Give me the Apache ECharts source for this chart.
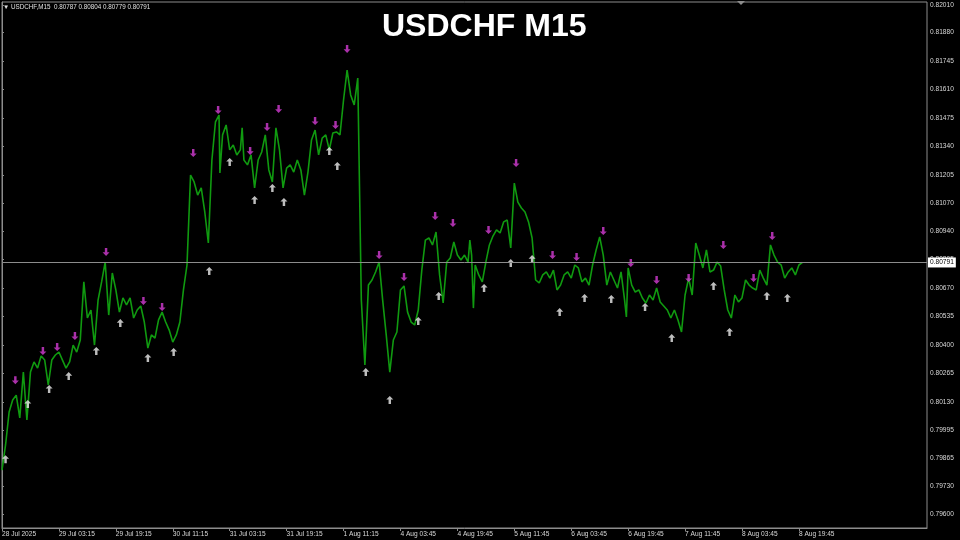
<!DOCTYPE html>
<html>
<head>
<meta charset="utf-8">
<script src="https://cdn.jsdelivr.net/npm/echarts@6.0.0/dist/echarts.min.js"></script>
<style>html,body{margin:0;padding:0;background:#000;}#c{width:960px;height:540px;}</style>
</head>
<body>
<div id="c"></div>
<script>
const symbolName = 'USDCHF M15';
const infoName = 'USDCHF,M15';
const lastBarOHLC = [0.80787, 0.80804, 0.80779, 0.80791];
const STEP = 4;
const closes = [
0.79808,0.79927,0.80083,0.80140,0.80163,0.80055,0.80272,0.80045,0.80272,0.80320,
0.80291,0.80348,0.80329,0.80211,0.80329,0.80353,0.80367,0.80329,0.80291,0.80320,
0.80400,0.80367,0.80424,0.80699,0.80528,0.80566,0.80400,0.80613,0.80699,0.80793,
0.80542,0.80741,0.80661,0.80556,0.80623,0.80590,0.80623,0.80528,0.80566,0.80585,
0.80509,0.80386,0.80448,0.80433,0.80519,0.80556,0.80509,0.80471,0.80414,0.80448,
0.80509,0.80661,0.80779,0.81205,0.81172,0.81110,0.81144,0.81030,0.80883,0.81276,
0.81456,0.81489,0.81395,0.81442,0.81324,0.81347,0.81300,0.81324,0.81276,0.81253,
0.81300,0.81144,0.81276,0.81314,0.81395,0.81229,0.81172,0.81428,0.81324,0.81144,
0.81238,0.81253,0.81219,0.81276,0.81229,0.81110,0.81219,0.81371,0.81418,0.81300,
0.81380,0.81395,0.81324,0.81404,0.81409,0.81395,0.81560,0.81702,0.81584,0.81537,
0.81664,0.80613,0.80306,0.80684,0.80708,0.80746,0.80793,0.80613,0.80448,0.80272,
0.80424,0.80462,0.80661,0.80680,0.80556,0.80509,0.80495,0.80566,0.80755,0.80897,
0.80907,0.80874,0.80935,0.80732,0.80599,0.80793,0.80812,0.80888,0.80826,0.80803,
0.80826,0.80793,0.80826,0.80779,0.80732,0.80699,0.80793,0.80874,0.80916,0.80945,
0.80931,0.80983,0.80992,0.80860,0.81167,0.81077,0.81049,0.81030,0.80983,0.80907,
0.80708,0.80694,0.80732,0.80746,0.80717,0.80755,0.80661,0.80684,0.80732,0.80746,
0.80717,0.80779,0.80765,0.80699,0.80717,0.80684,0.80779,0.80850,0.80912,0.80826,
0.80684,0.80746,0.80708,0.80670,0.80746,0.80613,0.80765,0.80684,0.80651,0.80661,
0.80623,0.80599,0.80637,0.80613,0.80670,0.80604,0.80585,0.80566,0.80528,0.80566,
0.80519,0.80462,0.80637,0.80717,0.80637,0.80883,0.80826,0.80765,0.80850,0.80746,
0.80755,0.80793,0.80774,0.80661,0.80566,0.80528,0.80637,0.80604,0.80623,0.80708,
0.80684,0.80670,0.80661,0.80755,0.80717,0.80684,0.80874,0.80826,0.80793,0.80779,
0.80717,0.80746,0.80765,0.80732,0.80779,0.80791
];
// single-bar spikes read between the regular samples
const spikeBars = [245, 270, 526, 530, 702];
const spikePrices = [0.81215, 0.81428, 0.80897, 0.80575, 0.80533];
// fractal arrows (bar index, price)
const downBars = [15,46,62,82,117,159,180,215,243,279,298,311,352,375,388,424,452,487,507,547,578,619,646,676,707,736,772,811,845,866];
const downPrices = [0.80234,0.80372,0.80391,0.80443,0.80841,0.80609,0.80580,0.81309,0.81513,0.81319,0.81432,0.81518,0.81461,0.81442,0.81802,0.80826,0.80722,0.81011,0.80978,0.80945,0.81262,0.80826,0.80817,0.80940,0.80788,0.80708,0.80717,0.80874,0.80717,0.80916];
const upBars = [4,29,53,75,106,133,164,193,233,256,284,304,317,368,377,409,436,468,491,542,572,596,627,655,685,723,753,800,818,860,883];
const upPrices = [0.79860,0.80121,0.80192,0.80253,0.80372,0.80504,0.80339,0.80367,0.80751,0.81267,0.81087,0.81144,0.81077,0.81319,0.81248,0.80272,0.80140,0.80514,0.80632,0.80670,0.80788,0.80807,0.80556,0.80623,0.80618,0.80580,0.80433,0.80680,0.80462,0.80632,0.80623];
// axes
const xTickBars = [0,64,128,192,256,320,384,448,512,576,640,704,768,832,896];
const xTickLabels = ['28 Jul 2025','29 Jul 03:15','29 Jul 19:15','30 Jul 11:15','31 Jul 03:15','31 Jul 19:15','1 Aug 11:15','4 Aug 03:45','4 Aug 19:45','5 Aug 11:45','6 Aug 03:45','6 Aug 19:45','7 Aug 11:45','8 Aug 03:45','8 Aug 19:45'];
const yTicks = [0.79600,0.79730,0.79865,0.79995,0.80130,0.80265,0.80400,0.80535,0.80670,0.80805,0.80940,0.81070,0.81205,0.81340,0.81475,0.81610,0.81745,0.81880,0.82010];
const xMax = 1040, yMin = 0.79534, yMax = 0.82024;

const lineData = closes.map((p, i) => [i * STEP, p])
  .concat(spikeBars.map((b, i) => [b, spikePrices[i]]))
  .sort((a, b) => a[0] - b[0]);
const upData = upBars.map((b, i) => [b, upPrices[i]]);
const downData = downBars.map((b, i) => [b, downPrices[i]]);
const lastPrice = closes[closes.length - 1];

const UP_ARROW = 'path://M4,0 L8,4 L5.4,4 L5.4,9 L2.6,9 L2.6,4 L0,4 Z';
const DOWN_ARROW = 'path://M4,9 L8,5 L5.4,5 L5.4,0 L2.6,0 L2.6,5 L0,5 Z';
const FONT = 'Liberation Sans';
const GRAY = '#8c8c8c';

const chart = echarts.init(document.getElementById('c'), null, {renderer: 'canvas'});
chart.setOption({
  backgroundColor: '#000',
  animation: false,
  title: [
    {text: symbolName, left: 377, top: 6,
     textStyle: {color: '#fff', fontSize: 32, fontWeight: 'bold', fontFamily: FONT}},
    {text: '\u25BC ' + infoName + '  ' + lastBarOHLC.map(v => v.toFixed(5)).join(' '), left: 3, top: 4, padding: 0,
     textStyle: {color: '#e0e0e0', fontSize: 6.3, fontWeight: 'normal', fontFamily: FONT}}
  ],
  graphic: [{type: 'polygon', shape: {points: [[737, 1], [745, 1], [741, 5]]}, style: {fill: GRAY}, silent: true}],
  grid: {left: 2, right: 33, top: 2, bottom: 12, show: true, borderColor: GRAY, borderWidth: 1,
         backgroundColor: '#000', containLabel: false, outerBoundsMode: 'none'},
  xAxis: {
    type: 'value', min: 0, max: xMax,
    axisLine: {show: true, lineStyle: {color: GRAY}},
    axisTick: {show: true, length: 3, customValues: xTickBars, lineStyle: {color: GRAY}},
    splitLine: {show: false},
    axisLabel: {customValues: xTickBars, formatter: v => xTickLabels[xTickBars.indexOf(v)] || '',
                align: 'left', color: '#d8d8d8', fontSize: 6.6, fontFamily: FONT, margin: 3}
  },
  yAxis: {
    type: 'value', position: 'right', min: yMin, max: yMax, scale: true,
    axisLine: {show: true, lineStyle: {color: GRAY}},
    axisTick: {show: true, length: 2, customValues: yTicks, lineStyle: {color: GRAY}},
    splitLine: {show: false},
    axisLabel: {customValues: yTicks, formatter: v => v.toFixed(5),
                color: '#d8d8d8', fontSize: 6.6, fontFamily: FONT, margin: 3}
  },
  series: [
    {type: 'line', data: lineData, showSymbol: false, z: 2,
     lineStyle: {color: '#109a10', width: 1.6},
     markLine: {silent: true, symbol: 'none', animation: false, precision: 5,
       data: [{yAxis: lastPrice}],
       lineStyle: {color: GRAY, width: 1, type: 'solid'},
       label: {show: true, position: 'end', distance: 1, formatter: () => lastPrice.toFixed(5),
               color: '#000', backgroundColor: '#fff', fontSize: 6.6, fontFamily: FONT, padding: [2, 2, 1, 2]}}
    },
    {type: 'scatter', data: upData, symbol: UP_ARROW, symbolSize: [7, 8], z: 3,
     itemStyle: {color: '#ececec'}},
    {type: 'scatter', data: downData, symbol: DOWN_ARROW, symbolSize: [7, 8], z: 3,
     itemStyle: {color: '#d43cd4'}}
  ]
});
</script>
</body>
</html>
